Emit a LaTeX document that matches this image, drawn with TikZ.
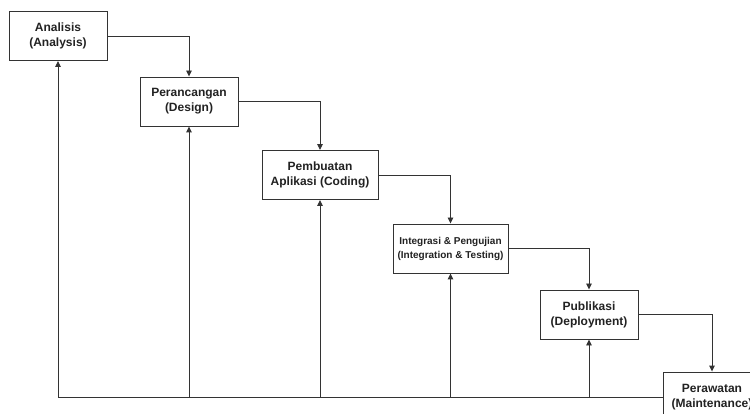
\documentclass[tikz,border=0pt]{standalone}
\usepackage{fontspec}
\setmainfont{Liberation Sans}
\usetikzlibrary{arrows.meta}
\definecolor{ln}{HTML}{333333}
\definecolor{txt}{HTML}{222222}
\begin{document}
\begin{tikzpicture}[x=1pt,y=-1pt,
  stage/.style={draw=ln, line width=0.9pt, fill=white, minimum height=49pt,
    align=center, inner sep=0pt, text=txt,
    font=\bfseries\fontsize{12}{15}\selectfont},
  wire/.style={draw=ln, line width=0.9pt},
  flow/.style={wire, -{Triangle[length=6pt,width=5.5pt]}},
]
\useasboundingbox (0,0) rectangle (750,414);
\clip (0,0) rectangle (750,414);

% stages of the waterfall
\node[stage, minimum width=98pt]  (a) at (58,36)      {Analisis\\(Analysis)};
\node[stage, minimum width=98pt]  (b) at (189,101.5)  {Perancangan\\(Design)};
\node[stage, minimum width=116pt] (c) at (320,175)    {Pembuatan\\Aplikasi (Coding)};
\node[stage, minimum width=115pt, font=\bfseries\fontsize{10}{14}\selectfont]
                                  (d) at (450.5,248.5) {Integrasi \& Pengujian\\(Integration \& Testing)};
\node[stage, minimum width=98pt]  (e) at (589,314.5)  {Publikasi\\(Deployment)};
\node[stage, minimum width=98pt, minimum height=50pt]
                                  (f) at (712,397)    {Perawatan\\(Maintenance)};

% forward flow
\draw[flow] (a.east) -| (b.north);
\draw[flow] (b.east) -| (c.north);
\draw[flow] (c.east) -| (d.north);
\draw[flow] (d.east) -| (e.north);
\draw[flow] (e.east) -| (f.north);

% feedback line from maintenance back to every stage
\coordinate (back) at (58,397);
\draw[wire] (f.west) -- (back);
\draw[flow] (back) -- (a.south);
\draw[flow] (b.south |- back) -- (b.south);
\draw[flow] (c.south |- back) -- (c.south);
\draw[flow] (d.south |- back) -- (d.south);
\draw[flow] (e.south |- back) -- (e.south);
\end{tikzpicture}
\end{document}
